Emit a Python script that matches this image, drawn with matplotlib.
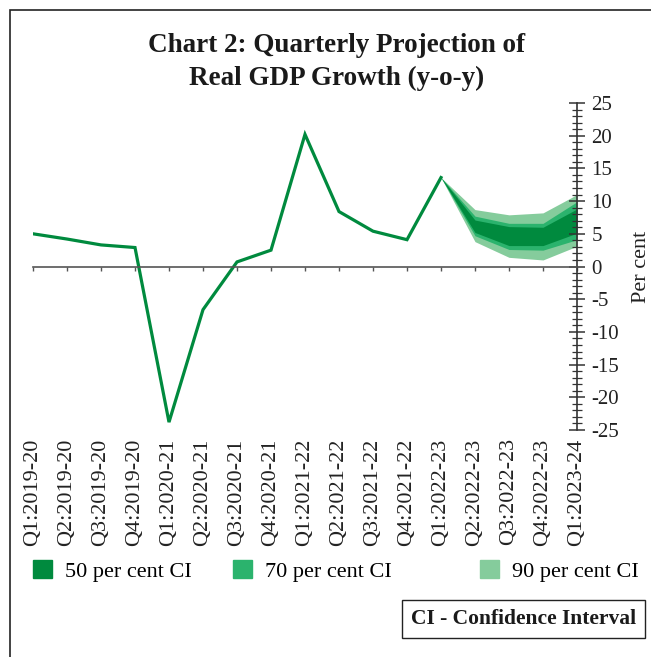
import matplotlib
matplotlib.use("Agg")
import matplotlib.pyplot as plt
from matplotlib.patches import Patch, Rectangle
from matplotlib.ticker import MultipleLocator

plt.rcParams['font.family'] = ['Liberation Serif', 'DejaVu Serif']
plt.rcParams['axes.unicode_minus'] = False

# quarters on the x axis
quarters = ['Q1:2019-20', 'Q2:2019-20', 'Q3:2019-20', 'Q4:2019-20',
            'Q1:2020-21', 'Q2:2020-21', 'Q3:2020-21', 'Q4:2020-21',
            'Q1:2021-22', 'Q2:2021-22', 'Q3:2021-22', 'Q4:2021-22',
            'Q1:2022-23', 'Q2:2022-23', 'Q3:2022-23', 'Q4:2022-23',
            'Q1:2023-24']

# actual growth (up to Q1:2022-23)
gdp = [5.0, 4.2, 3.3, 2.9, -23.8, -6.6, 0.7, 2.5, 20.2, 8.4, 5.4, 4.1, 13.6]

# projection fan, Q1:2022-23 .. Q1:2023-24
fan_start = 12
ci90_lo = [13.6, 3.8, 1.4, 1.0, 3.1]
ci90_hi = [13.6, 8.7, 7.9, 8.2, 11.0]
ci70_lo = [13.6, 4.7, 2.6, 2.5, 4.1]
ci70_hi = [13.6, 7.7, 6.6, 6.6, 9.9]
ci50_lo = [13.6, 5.2, 3.2, 3.2, 5.1]
ci50_hi = [13.6, 7.1, 6.1, 6.0, 8.8]

ci_labels = ['50 per cent CI', '70 per cent CI', '90 per cent CI']
c50 = '#008a3e'
c70 = '#2bb36d'
c90 = '#85cc9c'
line_col = '#008a3e'

W, H = 651, 657
fig = plt.figure(figsize=(W / 100, H / 100), dpi=100)
ax = fig.add_axes([33 / W, 1 - 430 / H, (577 - 33) / W, (430 - 103) / H])

xs = list(range(len(quarters)))
fx = xs[fan_start:]
ax.fill_between(fx, ci90_lo, ci90_hi, color=c90, lw=0)
ax.fill_between(fx, ci70_lo, ci70_hi, color=c70, lw=0)
ax.fill_between(fx, ci50_lo, ci50_hi, color=c50, lw=0)
ax.plot(xs[:len(gdp)], gdp, color=line_col, lw=2.3, solid_joinstyle='miter')

ax.set_xlim(0, 16)
ax.set_ylim(-25, 25)

for s in ['left', 'top']:
    ax.spines[s].set_visible(False)
ax.spines['bottom'].set_position(('data', 0))
ax.spines['bottom'].set_color('#555555')
ax.spines['bottom'].set_linewidth(1.2)
ax.spines['right'].set_color('#333333')
ax.spines['right'].set_linewidth(1.2)

ax.set_xticks(xs)
ax.tick_params(axis='x', direction='out', length=3, width=1, color='#555555',
               labelbottom=False)

ax.yaxis.tick_right()
ax.yaxis.set_major_locator(MultipleLocator(5))
ax.yaxis.set_minor_locator(MultipleLocator(1))
ax.tick_params(axis='y', which='major', direction='inout', length=11, width=1.1,
               color='#333333', labelsize=15, pad=5, labelcolor='#222222')
ax.tick_params(axis='y', which='minor', direction='inout', length=7, width=0.9,
               color='#333333')
ax.yaxis.set_label_position('right')
ax.set_ylabel('Per cent', fontsize=16, color='#222222', labelpad=9)

sec = ax.secondary_xaxis('bottom')
sec.set_xticks(xs, labels=quarters, rotation=90)
sec.tick_params(length=0, pad=6, labelsize=16, labelcolor='#222222')
sec.spines['bottom'].set_visible(False)

fig.text(337 / W, 1 - 45 / H, 'Chart 2: Quarterly Projection of',
         ha='center', va='center', fontsize=19.5, fontweight='bold', color='#1a1a1a')
fig.text(337 / W, 1 - 78 / H, 'Real GDP Growth (y-o-y)',
         ha='center', va='center', fontsize=19.5, fontweight='bold', color='#1a1a1a')

# three legend entries, placed separately
for col, lab, x0 in zip([c50, c70, c90], ci_labels, [33, 233, 480]):
    fig.legend([Patch(color=col)], [lab], loc='center left',
               bbox_to_anchor=(x0 / W, 1 - 571 / H), frameon=False, fontsize=16,
               handlelength=0.85, handleheight=0.85, handletextpad=0.6,
               borderpad=0, borderaxespad=0)

fig.text(636 / W, 1 - 619 / H, 'CI - Confidence Interval', ha='right', va='center',
         fontsize=15.5, fontweight='bold', color='#1a1a1a',
         bbox=dict(boxstyle='square,pad=0.4', fc='white', ec='#222222', lw=1))

fig.add_artist(Rectangle((10 / W, -0.1), 1.2, 1 - 10 / H + 0.1, fill=False,
                         ec='#222222', lw=1.2, transform=fig.transFigure))

fig.savefig('out.png', dpi=100)
